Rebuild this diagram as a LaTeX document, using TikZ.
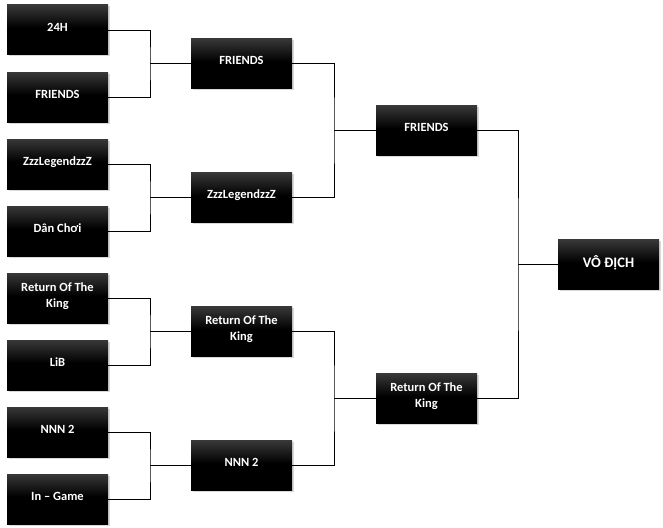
\documentclass[tikz,border=0pt]{standalone}
\usepackage{fontspec}
\setmainfont{Carlito}
\usetikzlibrary{positioning,shadows}
\pgfdeclareverticalshading{teamshade}{100bp}{color(0bp)=(black); color(25bp)=(black); color(52bp)=(black); color(75bp)=(black!78); color(100bp)=(black!78)}

\begin{document}
\begin{tikzpicture}[x=1pt, y=-1pt, node distance=17pt,
  team/.style={shade, shading=teamshade, draw=none, text=white, align=center,
    minimum width=101pt, minimum height=50pt, inner sep=2pt, outer sep=0pt,
    text depth=6pt, font=\fontsize{12.5}{16}\selectfont\bfseries,
    drop shadow={shadow xshift=1.5pt, shadow yshift=-1.5pt, opacity=0.3, fill=black!50}},
  link/.style={draw=black, line width=0.8pt}]
\useasboundingbox (0,0) rectangle (663,527);
% first round
\node[team] (r1a) at (57.5,30) {24H};
\node[team, below=of r1a] (r1b) {FRIENDS};
\node[team, below=of r1b] (r1c) {ZzzLegendzzZ};
\node[team, below=of r1c] (r1d) {Dân Chơi};
\node[team, below=of r1d] (r1e) {Return Of The\\King};
\node[team, below=of r1e] (r1f) {LiB};
\node[team, below=of r1f] (r1g) {NNN 2};
\node[team, below=of r1g] (r1h) {In -- Game};
% second round
\path (r1a.east) -- (r1b.east) coordinate[pos=0.5] (m1);
\path (r1c.east) -- (r1d.east) coordinate[pos=0.5] (m2);
\path (r1e.east) -- (r1f.east) coordinate[pos=0.5] (m3);
\path (r1g.east) -- (r1h.east) coordinate[pos=0.5] (m4);
\coordinate[right=42pt of m1] (j1);
\coordinate[right=42pt of m2] (j2);
\coordinate[right=42pt of m3] (j3);
\coordinate[right=42pt of m4] (j4);
\node[team, right=83pt of m1] (r2a) {FRIENDS};
\node[team, right=83pt of m2] (r2b) {ZzzLegendzzZ};
\node[team, right=83pt of m3] (r2c) {Return Of The\\King};
\node[team, right=83pt of m4] (r2d) {NNN 2};
\draw[link] (r1a.east) -| (j1) |- (r1b.east);
\draw[link] (j1) -- (r2a.west);
\draw[link] (r1c.east) -| (j2) |- (r1d.east);
\draw[link] (j2) -- (r2b.west);
\draw[link] (r1e.east) -| (j3) |- (r1f.east);
\draw[link] (j3) -- (r2c.west);
\draw[link] (r1g.east) -| (j4) |- (r1h.east);
\draw[link] (j4) -- (r2d.west);
% semi-finals
\path (r2a.east) -- (r2b.east) coordinate[pos=0.5] (m5);
\path (r2c.east) -- (r2d.east) coordinate[pos=0.5] (m6);
\coordinate[right=42pt of m5] (j5);
\coordinate[right=42pt of m6] (j6);
\node[team, right=84pt of m5] (r3a) {FRIENDS};
\node[team, right=84pt of m6] (r3b) {Return Of The\\King};
\draw[link] (r2a.east) -| (j5) |- (r2b.east);
\draw[link] (j5) -- (r3a.west);
\draw[link] (r2c.east) -| (j6) |- (r2d.east);
\draw[link] (j6) -- (r3b.west);
% champion
\path (r3a.east) -- (r3b.east) coordinate[pos=0.5] (m7);
\coordinate[right=41pt of m7] (j7);
\node[team, right=81pt of m7, font=\fontsize{14.5}{17}\selectfont\bfseries] (win) {VÔ ĐỊCH};
\draw[link] (r3a.east) -| (j7) |- (r3b.east);
\draw[link] (j7) -- (win.west);
\end{tikzpicture}
\end{document}
